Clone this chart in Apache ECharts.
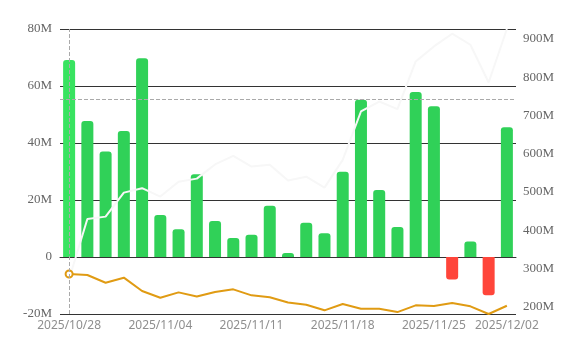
<!DOCTYPE html>
<html>
<head>
<meta charset="utf-8">
<script src="https://cdn.jsdelivr.net/npm/echarts@6/dist/echarts.min.js"></script>
<style>html,body{margin:0;padding:0;background:#fff;}#c{width:576px;height:344px;}</style>
</head>
<body>
<div id="c"></div>
<script>
const dates = ['2025/10/28','2025/10/29','2025/10/30','2025/10/31','2025/11/03','2025/11/04','2025/11/05','2025/11/06','2025/11/07','2025/11/10','2025/11/11','2025/11/12','2025/11/13','2025/11/14','2025/11/17','2025/11/18','2025/11/19','2025/11/20','2025/11/21','2025/11/24','2025/11/25','2025/11/26','2025/11/28','2025/12/01','2025/12/02'];
// bar values in millions (left axis)
const barValues = [69.1, 47.7, 37.0, 44.2, 69.7, 14.7, 9.7, 29.0, 12.6, 6.7, 7.8, 18.0, 1.4, 12.0, 8.3, 29.9, 55.2, 23.5, 10.5, 57.9, 52.9, -7.9, 5.4, -13.4, 45.5];
// white line in millions (right axis)
const whiteValues = [272.5, 429.6, 435.6, 498.4, 510, 488, 527, 535, 572, 594.5, 566.5, 571, 530, 540, 511.5, 584, 710.5, 736.6, 716.8, 841.4, 880.6, 913.9, 885, 786.4, 926.2];
// orange line in millions (right axis)
const orangeValues = [285.6, 283, 262.8, 276, 241, 223.6, 237.6, 227, 238.5, 245.5, 229.8, 224.6, 211, 205.2, 190.6, 207, 194.8, 194.8, 186, 203.6, 201.8, 209.7, 201, 181, 202.6];
const refLineValue = 55.3; // horizontal dashed reference (millions)
const leftTicks = {min: -20, max: 80, interval: 20};

const M = 1e6;
const fmtM = v => v === 0 ? '0' : Math.round(v / M) + 'M';
const green = '#30d158', greenHi = '#38e360', red = '#ff453a';

const chart = echarts.init(document.getElementById('c'), null, {renderer: 'canvas'});
chart.setOption({
  animation: false,
  backgroundColor: '#fff',
  grid: {left: 60, right: 60, top: 29, bottom: 30},
  xAxis: {
    type: 'category',
    data: dates,
    axisLine: {lineStyle: {color: '#333', width: 1}},
    axisTick: {show: false},
    axisLabel: {
      color: '#8f8f8f', fontFamily: 'Noto Sans', fontSize: 12, margin: 6,
      interval: (i) => i % 5 === 0 || i === dates.length - 1
    }
  },
  yAxis: [{
    type: 'value',
    min: leftTicks.min * M, max: leftTicks.max * M, interval: leftTicks.interval * M,
    axisLine: {show: false}, axisTick: {show: false},
    splitLine: {lineStyle: {color: '#333', width: 1}},
    axisLabel: {color: '#666', fontFamily: 'Liberation Serif', fontSize: 13, margin: 8, formatter: fmtM}
  }, {
    type: 'value',
    min: 'dataMin', max: 'dataMax',
    axisLine: {show: false}, axisTick: {show: false},
    splitLine: {show: false},
    axisLabel: {color: '#666', fontFamily: 'Liberation Serif', fontSize: 13, margin: 7,
      showMinLabel: false, showMaxLabel: false, formatter: fmtM}
  }],
  series: [{
    type: 'bar',
    yAxisIndex: 0,
    barWidth: 12,
    data: barValues.map((v, i) => ({
      value: v * M,
      itemStyle: {
        color: i === 0 ? greenHi : (v >= 0 ? green : red),
        borderRadius: v >= 0 ? [3, 3, 0, 0] : [0, 0, 3, 3]
      }
    })),
    markLine: {
      silent: true, symbol: ['none', 'none'], label: {show: false},
      lineStyle: {color: '#aaa', type: 'dashed', width: 1},
      data: [{yAxis: refLineValue * M}, {xAxis: dates[0]}]
    }
  }, {
    type: 'line',
    yAxisIndex: 1,
    data: whiteValues.map(v => v * M),
    showSymbol: false,
    lineStyle: {color: '#f7f7f7', width: 2},
    itemStyle: {color: '#f7f7f7'}
  }, {
    type: 'line',
    yAxisIndex: 1,
    data: orangeValues.map((v, i) => i === 0
      ? {value: v * M, symbol: 'emptyCircle', symbolSize: 7}
      : {value: v * M, symbol: 'none'}),
    lineStyle: {color: '#e09b13', width: 2},
    itemStyle: {color: '#e09b13', borderWidth: 2}
  }]
});
</script>
</body>
</html>
